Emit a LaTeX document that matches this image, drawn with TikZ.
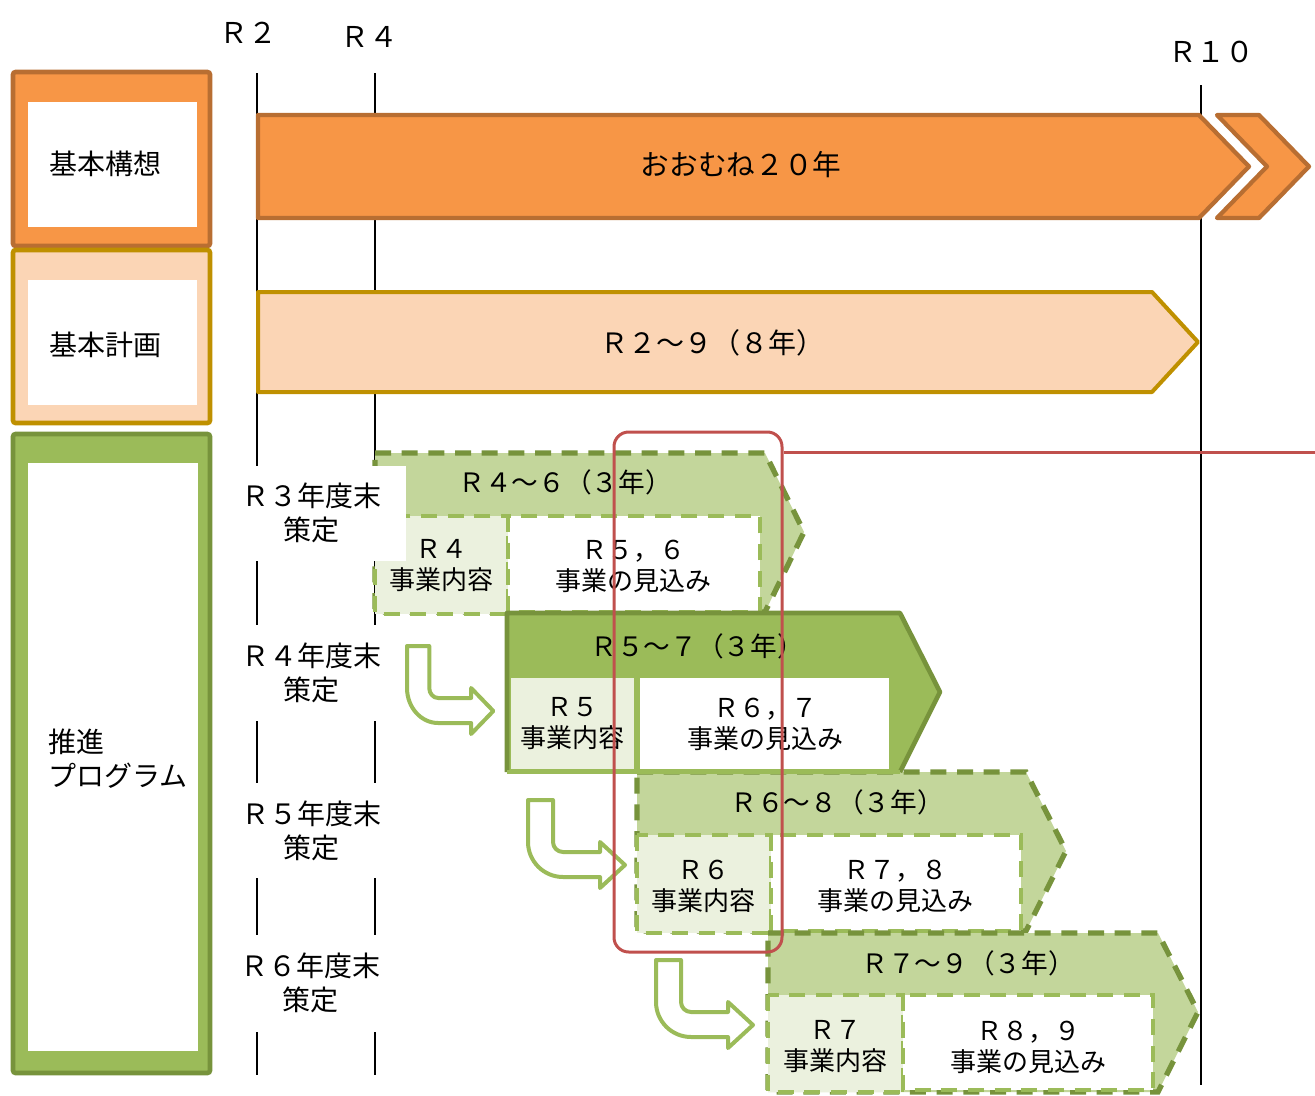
\documentclass[tikz,border=0pt]{standalone}
\usepackage{fontspec}
\setmainfont{Noto Sans CJK JP}
\definecolor{org}{HTML}{F79646}
\definecolor{orgd}{HTML}{B86E32}
\definecolor{peach}{HTML}{FBD5B5}
\definecolor{gold}{HTML}{BF9000}
\definecolor{grn}{HTML}{9BBB59}
\definecolor{grnd}{HTML}{77933C}
\definecolor{grnl}{HTML}{C3D69B}
\definecolor{grnp}{HTML}{EBF1DE}
\definecolor{redl}{HTML}{C0504D}
\tikzset{
  tl/.style={line width=2.2pt, black},
  catO/.style={draw=orgd, fill=org, line width=3.5pt, rounded corners=2pt},
  catP/.style={draw=gold, fill=peach, line width=3.5pt, rounded corners=2pt},
  catG/.style={draw=grnd, fill=grn, line width=3.5pt, rounded corners=2pt},
  bigO/.style={draw=orgd, fill=org, line width=3.2pt, line join=round},
  bigP/.style={draw=gold, fill=peach, line width=3pt, line join=round},
  pdash/.style={draw=grnd, fill=grnl, line width=4pt, dash pattern=on 12pt off 8pt},
  ibox1/.style={draw=grn, fill=grnp, line width=3.6pt, dash pattern=on 12pt off 8pt},
  ibox2/.style={draw=grn, fill=white, line width=3.6pt, dash pattern=on 12pt off 8pt},
  bent/.style={draw=grn, fill=white, line width=3pt, line join=round},
  focus/.style={draw=redl, line width=2.25pt, rounded corners=11pt, inner sep=0pt,
    minimum width=126pt, minimum height=390pt},
  redline/.style={draw=redl, line width=2.25pt},
  yr/.style={font=\fontsize{21.5}{26}\selectfont, inner sep=0pt},
  big/.style={font=\fontsize{21.5}{26}\selectfont, inner sep=0pt},
  txt/.style={font=\fontsize{21}{25.5}\selectfont, align=center, inner sep=0pt},
  hdr/.style={font=\fontsize{20}{24}\selectfont, inner sep=0pt},
  itxt/.style={font=\fontsize{19.5}{23.25}\selectfont, align=center, inner sep=0pt},
  bentarrow/.pic={\draw[bent] (0,0) -- (25,0) -- (25,42) .. controls (25,47.5) and (29.5,52) .. (35,52)
     -- (72,52) -- (72,42) -- (97,65) -- (72,88) -- (72,77) -- (35,77)
     .. controls (15.7,77) and (0,61.3) .. (0,42) -- cycle;}
}
\begin{document}
\begin{tikzpicture}[x=0.75pt,y=-0.75pt]
\useasboundingbox (0,0) rectangle (1315,1096);

% timeline lines
\draw[tl] (257,73) -- (257,1075);
\draw[tl] (375,73) -- (375,1075);
\draw[tl] (1201,85) -- (1201,1085);

% year labels
\node[yr] (r2) at (248,33) {Ｒ２};
\node[yr] (r4) at (369,37) {Ｒ４};
\node[yr] (r10) at (1211,52) {Ｒ１０};

% category boxes
\draw[catO] (13,72) rectangle (210,246);
\fill[white] (28,102) rectangle (197,227);
\node[txt] (c1) at (106,164) {基本構想};
\draw[catP] (13,250) rectangle (210,423);
\fill[white] (28,280) rectangle (197,405);
\node[txt] (c2) at (106,345) {基本計画};
\draw[catG] (13,434) rectangle (210,1073);
\fill[white] (28,463) rectangle (198,1051);
\node[txt, align=left, anchor=west] (c3) at (48,759) {推進\\プログラム};

% orange arrow
\filldraw[bigO] (258,115) -- (1199,115) -- (1249,166.5) -- (1199,218) -- (258,218) -- cycle;
\filldraw[bigO] (1217,115) -- (1259,115) -- (1309,166.5) -- (1259,218) -- (1217,218) -- (1267,166.5) -- cycle;
\node[big] (t20) at (741,165) {おおむね２０年};

% peach arrow
\filldraw[bigP] (258,292) -- (1152,292) -- (1198,342) -- (1152,392) -- (258,392) -- cycle;
\node[txt] (t8) at (712,343) {Ｒ２～９（８年）};

% program arrow 1 (R4-6)
\filldraw[pdash] (375,453) -- (765,453) -- (804,532) -- (765,612) -- (375,612) -- cycle;
\filldraw[ibox1] (375,516) rectangle (508,614);
\filldraw[ibox2] (508,516) rectangle (760,612);

% program arrow 3 (R6-8)
\filldraw[pdash] (637,772) -- (1026,772) -- (1066,851) -- (1026,931) -- (637,931) -- cycle;
\filldraw[ibox1] (637,835) rectangle (771,933);
\filldraw[ibox2] (771,835) rectangle (1021,931);

% program arrow 2 (R5-7)
\fill[grn] (507,613) -- (900,613) -- (940,692) -- (900,772) -- (507,772) -- cycle;
\draw[grnd, line width=3.5pt, line join=round] (507,772) -- (507,613) -- (900,613) -- (940,692) -- (900,772);
\draw[grn, line width=3.5pt] (900,772) -- (507,772);
\fill[grnp] (511,678) rectangle (634,769);
\fill[white] (640,678) rectangle (889,769);

% program arrow 4 (R7-9)
\filldraw[pdash] (768,933) -- (1158,933) -- (1198,1012) -- (1158,1092) -- (768,1092) -- cycle;
\filldraw[ibox1] (768,995) rectangle (903,1092);
\filldraw[ibox2] (903,995) rectangle (1153,1090);

% masks behind the year-end labels
\fill[white] (240,466) rectangle (406,561);
\fill[white] (240,625) rectangle (406,721);
\fill[white] (240,783) rectangle (406,878);
\fill[white] (240,935) rectangle (406,1032);
\node[txt] (p3) at (311,513) {Ｒ３年度末\\策定};
\node[txt] (p4) at (311,673) {Ｒ４年度末\\策定};
\node[txt] (p5) at (311,831) {Ｒ５年度末\\策定};
\node[txt] (p6) at (310,983) {Ｒ６年度末\\策定};

% bent arrows
\pic[xscale=0.89] at (407,646) {bentarrow};
\pic at (528,800) {bentarrow};
\pic at (656,960) {bentarrow};

% texts of program arrows
\node[hdr] (h1) at (565,482) {Ｒ４～６（３年）};
\node[itxt] (a1) at (441,566) {Ｒ４\\事業内容};
\node[itxt] (b1) at (633,566) {Ｒ５，６\\事業の見込み};
\node[hdr] (h2) at (697,646) {Ｒ５～７（３年）};
\node[itxt] (a2) at (572,724) {Ｒ５\\事業内容};
\node[itxt] (b2) at (765,724) {Ｒ６，７\\事業の見込み};
\node[hdr] (h3) at (837,802) {Ｒ６～８（３年）};
\node[itxt] (a3) at (703,886) {Ｒ６\\事業内容};
\node[itxt] (b3) at (895,886) {Ｒ７，８\\事業の見込み};
\node[hdr] (h4) at (968,963) {Ｒ７～９（３年）};
\node[itxt] (a4) at (835,1047) {Ｒ７\\事業内容};
\node[itxt] (b4) at (1028,1047) {Ｒ８，９\\事業の見込み};

% focus frame and its line
\node[focus] (fb) at (698,692) {};
\coordinate (re) at (1315,452);
\draw[redline] (fb.east |- re) -- (re);
\end{tikzpicture}
\end{document}
